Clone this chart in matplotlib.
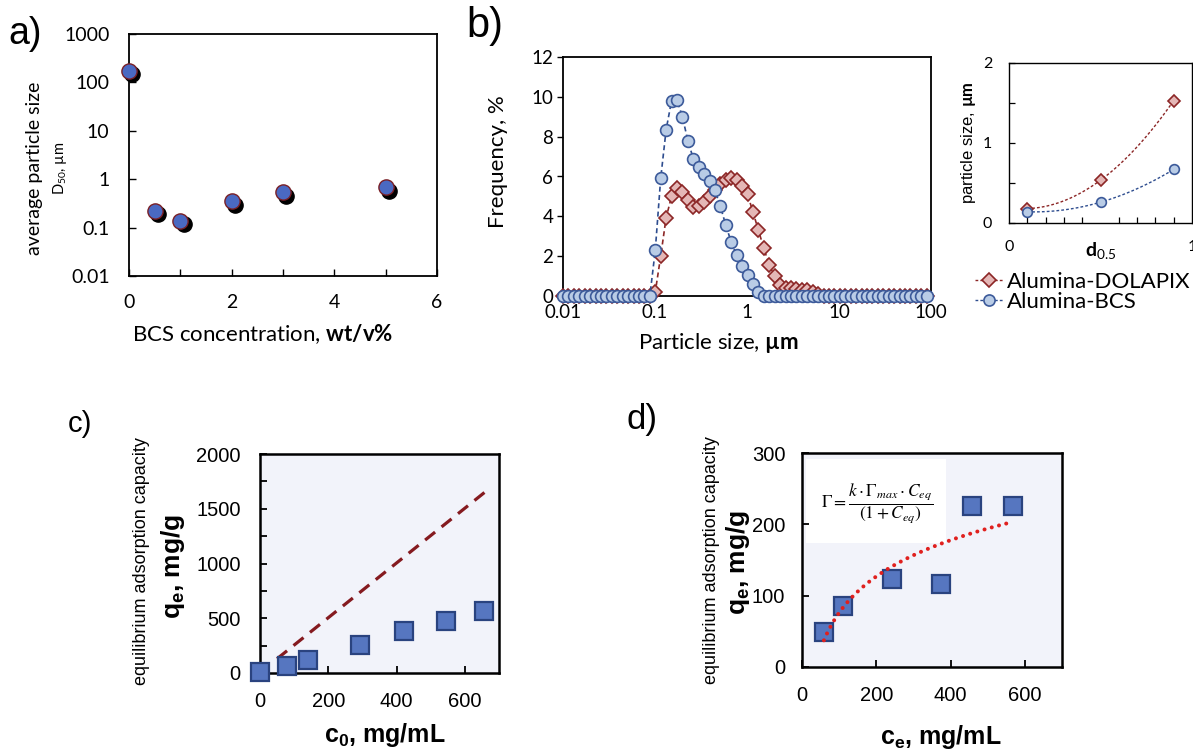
import numpy as np
import matplotlib
matplotlib.use('Agg')
import matplotlib.pyplot as plt
from matplotlib import transforms
from matplotlib.patches import Rectangle
from matplotlib.lines import Line2D
from matplotlib.ticker import NullLocator, FixedLocator

plt.rcParams['font.family'] = ['Lato', 'DejaVu Sans']
plt.rcParams['mathtext.fontset'] = 'custom'
plt.rcParams['mathtext.rm'] = 'Lato'
plt.rcParams['mathtext.bf'] = 'Lato:bold'
plt.rcParams['mathtext.it'] = 'Lato:italic'
plt.rcParams['mathtext.sf'] = 'Liberation Sans:bold'

# ---------------- data ----------------
# a) D50 vs BCS concentration
bcs_conc = [0, 0.5, 1, 2, 3, 5]
d50 = [175, 0.22, 0.14, 0.35, 0.54, 0.68]

# b) particle size distribution (size classes, um)
size_classes = [0.01000, 0.01146, 0.01312, 0.01503, 0.01722, 0.01972, 0.02259, 0.02588,
                0.02965, 0.03396, 0.03890, 0.04456, 0.05104, 0.05847, 0.06698, 0.07673,
                0.08789, 0.1007, 0.1153, 0.1321, 0.1513, 0.1733, 0.1986, 0.2275,
                0.2606, 0.2985, 0.3419, 0.3917, 0.4486, 0.5139, 0.5887, 0.6743,
                0.7725, 0.8849, 1.014, 1.161, 1.330, 1.524, 1.745, 1.999,
                2.290, 2.623, 3.005, 3.442, 3.943, 4.517, 5.174, 5.927,
                6.789, 7.777, 8.909, 10.21, 11.69, 13.39, 15.34, 17.57,
                20.13, 23.06, 26.41, 30.26, 34.66, 39.70, 45.48, 52.09,
                59.67, 68.36, 78.30, 89.70]
freq_dolapix = ([0] * 17 +
                [0.2, 2.0, 3.93, 5.0, 5.44, 5.22, 4.8, 4.45, 4.5, 4.7, 5.0, 5.3, 5.61,
                 5.81, 5.9, 5.81, 5.53, 5.1, 4.22, 3.3, 2.4, 1.54, 0.99, 0.54, 0.42,
                 0.38, 0.35, 0.32, 0.28, 0.2, 0.1] +
                [0] * 20)
freq_bcs = ([0] * 17 +
            [2.3, 5.9, 8.35, 9.8, 9.85, 9.0, 7.8, 6.9, 6.5, 6.15, 5.75, 5.3, 4.5,
             3.55, 2.7, 2.05, 1.5, 1.05, 0.6, 0.2] +
            [0] * 31)

# b) inset: d10, d50, d90
d_fraction = [0.1, 0.5, 0.9]
dsize_dolapix = [0.18, 0.535, 1.53]
dsize_bcs = [0.14, 0.26, 0.67]

# c) equilibrium adsorption capacity vs c0
c0 = [0, 78, 141, 293, 422, 546, 657]
qe_c = [5, 67, 122, 252, 380, 471, 568]
ref_c0 = [50, 660]
ref_qe = [130, 1655]

# d) equilibrium adsorption capacity vs ce
ce = [59, 110, 243, 375, 459, 567]
qe_d = [49, 86, 123, 116, 226, 226]

# ---------------- figure ----------------
W, H = 1193, 752
fig = plt.figure(figsize=(W / 100, H / 100), dpi=100)


def ax_rect(l, t, r, b):
    return [l / W, 1 - b / H, (r - l) / W, (b - t) / H]


def ftext(x, y, s, **kw):
    return fig.text(x / W, 1 - y / H, s, **kw)


ARIAL = 'Liberation Sans'

# ---------- panel a ----------
axA = fig.add_axes(ax_rect(129, 34, 437, 276))
axA.set_yscale('log')
axA.set_xlim(0, 6)
axA.set_ylim(0.01, 1000)
shadow = axA.transData + transforms.ScaledTranslation(2.5 / 72, -2.5 / 72, fig.dpi_scale_trans)
axA.scatter(bcs_conc, d50, s=120, c='black', transform=shadow, zorder=3, clip_on=False)
axA.scatter(bcs_conc, d50, s=120, c='#4A69C2', edgecolors='#7A1F25', linewidths=1.0,
            zorder=4, clip_on=False)
axA.set_xticks([0, 2, 4, 6])
axA.xaxis.set_minor_locator(FixedLocator([1, 3, 5]))
axA.yaxis.set_major_locator(FixedLocator([0.01, 0.1, 1, 10, 100, 1000]))
axA.yaxis.set_minor_locator(NullLocator())
axA.set_yticklabels(['0.01', '0.1', '1', '10', '100', '1000'])
axA.tick_params(axis='both', which='both', direction='in', length=5, width=1.0,
                labelsize=14, top=False, right=False)
axA.tick_params(axis='y', pad=14)
axA.tick_params(axis='x', pad=13)
for s in axA.spines.values():
    s.set_linewidth(1.3)
ftext(263, 334, r'BCS concentration, $\mathbf{wt/v\%}$', fontsize=16, ha='center', va='center')
ftext(35, 168, 'average particle size', fontsize=14, rotation=90, ha='center', va='center')
ftext(60, 168, r'$\mathrm{D_{50}}$, µm', fontsize=10.5, rotation=90, ha='center', va='center')
ftext(8, 34, 'a)', fontsize=27, family=ARIAL, ha='left', va='center')

# ---------- panel b ----------
axB = fig.add_axes(ax_rect(563, 57, 931, 296))
axB.set_xscale('log')
axB.set_xlim(0.01, 100)
axB.set_ylim(0, 12)
axB.plot(size_classes, freq_dolapix, ls=(0, (3, 2)), color='#8C2626', lw=1.2,
         marker='D', ms=7.2, mfc='#E4B7B6', mec='#8C2626', mew=1.2, zorder=3, clip_on=False)
axB.plot(size_classes, freq_bcs, ls=(0, (3, 2)), color='#2E4D8F', lw=1.2,
         marker='o', ms=8.5, mfc='#B9CCE6', mec='#3C5A9A', mew=1.2, zorder=4, clip_on=False)
axB.xaxis.set_major_locator(FixedLocator([0.01, 0.1, 1, 10, 100]))
axB.xaxis.set_minor_locator(NullLocator())
axB.set_xticklabels(['0.01', '0.1', '1', '10', '100'])
axB.set_yticks([0, 2, 4, 6, 8, 10, 12])
axB.tick_params(axis='x', length=0, pad=6, labelsize=13.5)
axB.tick_params(axis='y', direction='out', length=4, width=1.0, pad=3, labelsize=13.5)
for s in axB.spines.values():
    s.set_linewidth(1.3)
ftext(718, 343, r'Particle size, $\mathbf{µm}$', fontsize=16, ha='center', va='center')
ftext(498, 162, 'Frequency, %', fontsize=16, rotation=90, ha='center', va='center')
ftext(466, 26, 'b)', fontsize=30, family=ARIAL, ha='left', va='center')

# ---------- inset ----------
axI = fig.add_axes(ax_rect(1009, 63, 1192, 223))
axI.set_xlim(0, 1)
axI.set_ylim(0, 2)
xs = np.linspace(min(d_fraction), max(d_fraction), 100)
for ys, col in ((dsize_dolapix, '#8C2626'), (dsize_bcs, '#2E4D8F')):
    coef = np.polyfit(d_fraction, ys, 2)
    axI.plot(xs, np.polyval(coef, xs), ls=(0, (2, 1.5)), color=col, lw=1.0, zorder=2)
axI.plot(d_fraction, dsize_dolapix, ls='none', marker='D', ms=6, mfc='#E4B7B6',
         mec='#8C2626', mew=1.2, zorder=3)
axI.plot(d_fraction, dsize_bcs, ls='none', marker='o', ms=7, mfc='#B9CCE6',
         mec='#3C5A9A', mew=1.2, zorder=3)
axI.set_xticks([0, 0.5, 1])
axI.set_xticklabels(['0', r'$\mathbf{d}_{0.5}$', '1'])
axI.xaxis.set_minor_locator(FixedLocator(np.arange(0.1, 1.0, 0.1)))
axI.set_yticks([0, 1, 2])
axI.yaxis.set_minor_locator(FixedLocator([0.5, 1.5]))
axI.tick_params(axis='both', which='both', direction='in', length=4, width=0.9,
                labelsize=11.5, top=False, right=False)
axI.tick_params(axis='x', which='major', length=0, pad=12)
axI.tick_params(axis='y', pad=12)
for lab in axI.get_xticklabels():
    if 'd' in lab.get_text():
        lab.set_fontsize(14)
for s in axI.spines.values():
    s.set_linewidth(1.0)
ftext(968, 143, r'particle size, $\mathbf{µm}$', fontsize=12, family=ARIAL,
      rotation=90, ha='center', va='center')
handles = [Line2D([], [], ls=(0, (2, 1.5)), color='#8C2626', lw=1.0, marker='D', ms=7,
                  mfc='#E4B7B6', mec='#8C2626', mew=1.2),
           Line2D([], [], ls=(0, (2, 1.5)), color='#2E4D8F', lw=1.0, marker='o', ms=8,
                  mfc='#B9CCE6', mec='#3C5A9A', mew=1.2)]
fig.legend(handles, ['Alumina-DOLAPIX', 'Alumina-BCS'], loc='upper left',
           bbox_to_anchor=(975 / W, 1 - 272 / H), frameon=False, fontsize=16,
           handlelength=1.3, handletextpad=0.15, labelspacing=0.0, borderpad=0,
           borderaxespad=0)

BG = '#F2F3FA'

# ---------- panel c ----------
axC = fig.add_axes(ax_rect(260, 454, 499, 673))
axC.set_facecolor(BG)
axC.set_xlim(0, 700)
axC.set_ylim(0, 2000)
axC.plot(ref_c0, ref_qe, ls=(0, (4, 2.6)), color='#851A1F', lw=2.3, zorder=2)
axC.plot(c0, qe_c, ls='none', marker='s', ms=13, mfc='#5676C0', mec='#2A437F', mew=1.6,
         zorder=4, clip_on=False)
axC.set_xticks([0, 200, 400, 600])
axC.set_yticks([0, 500, 1000, 1500, 2000])
axC.yaxis.set_minor_locator(FixedLocator([250, 750, 1250, 1750]))
axC.tick_params(axis='both', which='both', direction='in', length=5, width=1.3,
                labelsize=14.5, labelfontfamily=ARIAL)
axC.tick_params(axis='y', pad=14)
axC.tick_params(axis='x', pad=14)
for s in axC.spines.values():
    s.set_linewidth(1.8)
ftext(385, 735, r'$\mathsf{c_0}$, mg/mL', fontsize=18, family=ARIAL, weight='bold',
      ha='center', va='center')
ftext(173, 566, r'$\mathsf{q_e}$, mg/g', fontsize=19, family=ARIAL, weight='bold',
      rotation=90, ha='center', va='center')
ftext(142, 561, 'equilibrium adsorption capacity', fontsize=13, family=ARIAL,
      rotation=90, ha='center', va='center')
ftext(68, 424, 'c)', fontsize=21, family=ARIAL, ha='left', va='center')

# ---------- panel d ----------
axD = fig.add_axes(ax_rect(802, 453, 1062, 667))
axD.set_facecolor(BG)
axD.set_xlim(0, 700)
axD.set_ylim(0, 300)
axD.add_patch(Rectangle((0.015, 0.58), 0.54, 0.39, transform=axD.transAxes,
                        facecolor='white', edgecolor='none', zorder=1))
coef = np.polyfit(np.log(ce), qe_d, 1)
xfit = np.linspace(min(ce), max(ce), 300)
axD.plot(xfit, np.polyval(coef, np.log(xfit)), ls=(0, (0.01, 1.85)), color='#E0201E',
         lw=2.9, dash_capstyle='round', zorder=5)
axD.plot(ce, qe_d, ls='none', marker='s', ms=13, mfc='#5676C0', mec='#2A437F', mew=1.6,
         zorder=4)
axD.set_xticks([0, 200, 400, 600])
axD.set_yticks([0, 100, 200, 300])
axD.tick_params(axis='both', which='both', direction='in', length=5, width=1.3,
                labelsize=14.5, labelfontfamily=ARIAL)
axD.tick_params(axis='y', pad=12)
axD.tick_params(axis='x', pad=14)
for s in axD.spines.values():
    s.set_linewidth(1.8)
axD.text(0.29, 0.765, r'$\Gamma = \dfrac{k\cdot\Gamma_{max}\cdot C_{eq}}{(1 + C_{eq})}$',
         transform=axD.transAxes, fontsize=12.5, math_fontfamily='stix', ha='center',
         va='center', zorder=6)
ftext(941, 737, r'$\mathsf{c_e}$, mg/mL', fontsize=18, family=ARIAL, weight='bold',
      ha='center', va='center')
ftext(738, 562, r'$\mathsf{q_e}$, mg/g', fontsize=19, family=ARIAL, weight='bold',
      rotation=90, ha='center', va='center')
ftext(712, 560, 'equilibrium adsorption capacity', fontsize=13, family=ARIAL,
      rotation=90, ha='center', va='center')
ftext(626, 420, 'd)', fontsize=25, family=ARIAL, ha='left', va='center')

fig.savefig('out.png', dpi=100)
